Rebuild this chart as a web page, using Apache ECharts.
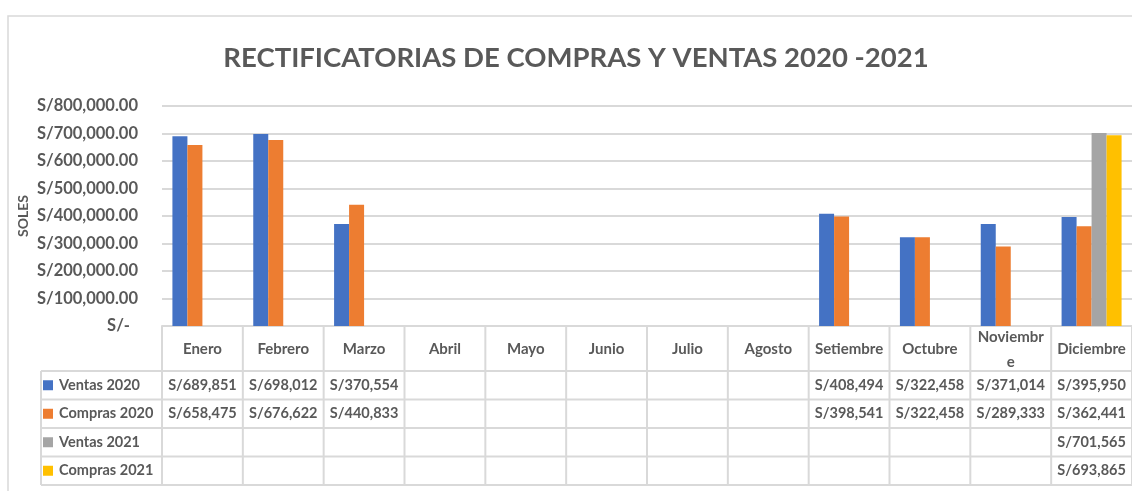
<!DOCTYPE html>
<html>
<head>
<meta charset="utf-8">
<script src="https://cdn.jsdelivr.net/npm/echarts@6/dist/echarts.min.js"></script>
<style>
  html, body { margin: 0; padding: 0; background: #fff; }
  #chart { width: 1132px; height: 491px; }
</style>
</head>
<body>
<div id="chart"></div>
<script>
  var months = ['Enero', 'Febrero', 'Marzo', 'Abril', 'Mayo', 'Junio', 'Julio', 'Agosto', 'Setiembre', 'Octubre', 'Noviembre', 'Diciembre'];
  var ventas2020 = [689851, 698012, 370554, null, null, null, null, null, 408494, 322458, 371014, 395950];
  var compras2020 = [658475, 676622, 440833, null, null, null, null, null, 398541, 322458, 289333, 362441];
  var ventas2021 = [null, null, null, null, null, null, null, null, null, null, null, 701565];
  var compras2021 = [null, null, null, null, null, null, null, null, null, null, null, 693865];
  var seriesNames = ['Ventas 2020', 'Compras 2020', 'Ventas 2021', 'Compras 2021'];
  var seriesColors = ['#4472C4', '#ED7D31', '#A5A5A5', '#FFC000'];
  var seriesData = [ventas2020, compras2020, ventas2021, compras2021];

  var FONT = 'Lato, "Open Sans", sans-serif';
  var GREY = '#595959';
  var LINE = '#d9d9d9';

  var chart = echarts.init(document.getElementById('chart'));

  function money(v) {
    return 'S/' + v.toLocaleString('en-US');
  }

  chart.setOption({
    animation: false,
    title: {
      text: 'RECTIFICATORIAS DE COMPRAS Y VENTAS 2020 -2021',
      left: 571,
      top: 39,
      textAlign: 'center',
      textStyle: { fontFamily: FONT, fontWeight: 'bold', fontSize: 27.5, color: GREY }
    },
    grid: { left: 162, top: 106, width: 980, height: 220 },
    xAxis: {
      type: 'category',
      data: months,
      axisLine: { lineStyle: { color: LINE, width: 2 } },
      axisTick: { show: false },
      axisLabel: { show: false }
    },
    yAxis: {
      type: 'value',
      min: 0,
      max: 800000,
      interval: 100000,
      name: 'SOLES',
      nameLocation: 'middle',
      nameGap: 132,
      nameMoveOverlap: false,
      nameTextStyle: { fontFamily: FONT, fontWeight: 'bold', fontSize: 14, color: GREY },
      axisLine: { show: false },
      axisTick: { show: false },
      axisLabel: {
        margin: 24,
        fontFamily: FONT,
        fontWeight: 'bold',
        fontSize: 16.5,
        color: GREY,
        formatter: function (v) {
          if (v === 0) return 'S/-  ';
          return 'S/' + v.toLocaleString('en-US', { minimumFractionDigits: 2 });
        }
      },
      splitLine: { lineStyle: { color: LINE, width: 2 } }
    },
    series: seriesNames.map(function (n, i) {
      return {
        name: n,
        type: 'bar',
        data: seriesData[i],
        barWidth: 15,
        barGap: '0%',
        itemStyle: { color: seriesColors[i] }
      };
    })
  });

  // data table under the plot
  var tTop = 326, headH = 45, rowH = 28.5, legL = 41;
  var centers = months.map(function (m) { return chart.convertToPixel({ xAxisIndex: 0 }, m); });
  var cw = centers[1] - centers[0];
  var x0 = centers[0] - cw / 2;
  var x1 = centers[centers.length - 1] + cw / 2;
  var tBottom = tTop + headH + rowH * seriesNames.length;
  var g = [];

  g.push({
    type: 'rect',
    shape: { x: 8, y: 16, width: 1200, height: 600 },
    style: { fill: 'none', stroke: LINE, lineWidth: 1.5 }
  });

  for (var i = 0; i <= months.length; i++) {
    var vx = x0 + i * cw;
    g.push({ type: 'line', shape: { x1: vx, y1: tTop, x2: vx, y2: tBottom }, style: { stroke: LINE, lineWidth: 2 } });
  }
  g.push({ type: 'line', shape: { x1: legL, y1: tTop + headH, x2: legL, y2: tBottom }, style: { stroke: LINE, lineWidth: 2 } });
  for (var k = 0; k <= seriesNames.length; k++) {
    var hy = tTop + headH + k * rowH;
    g.push({ type: 'line', shape: { x1: legL, y1: hy, x2: x1, y2: hy }, style: { stroke: LINE, lineWidth: 2 } });
  }

  months.forEach(function (m, i) {
    g.push({
      type: 'text',
      style: {
        text: m, x: centers[i], y: tTop + headH / 2 + 1,
        fill: GREY, font: 'bold 15px ' + FONT,
        align: 'center', verticalAlign: 'middle',
        width: 72, overflow: 'break', lineHeight: 25
      }
    });
  });

  seriesNames.forEach(function (n, s) {
    var cy = tTop + headH + s * rowH + rowH / 2;
    g.push({ type: 'rect', shape: { x: 43, y: cy - 5, width: 10, height: 10 }, style: { fill: seriesColors[s] } });
    g.push({
      type: 'text',
      style: { text: n, x: 59, y: cy, fill: GREY, font: 'bold 14.5px ' + FONT, align: 'left', verticalAlign: 'middle' }
    });
    seriesData[s].forEach(function (v, i) {
      if (v == null) return;
      g.push({
        type: 'text',
        style: { text: money(v), x: centers[i], y: cy, fill: GREY, font: 'bold 14.5px ' + FONT, align: 'center', verticalAlign: 'middle' }
      });
    });
  });

  chart.setOption({ graphic: g });
</script>
</body>
</html>
